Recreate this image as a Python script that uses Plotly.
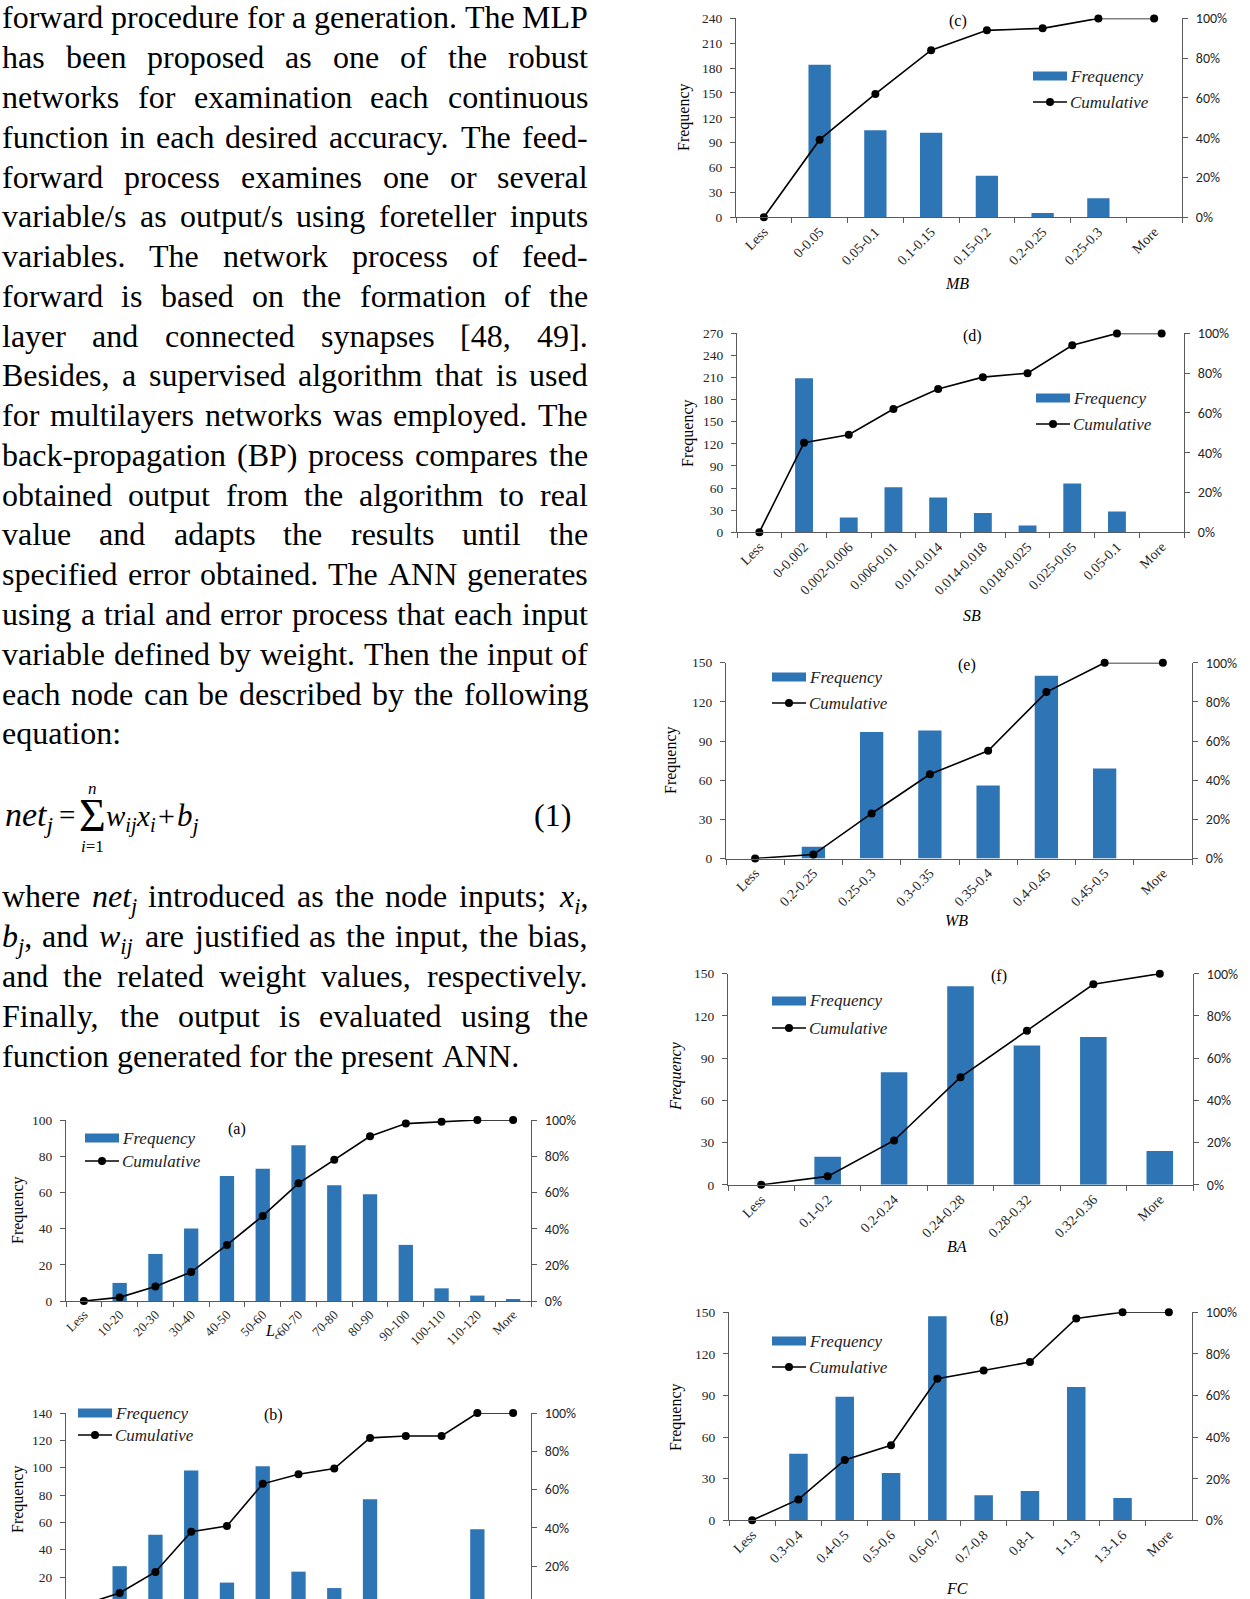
import re
import plotly.graph_objects as go

W, H = 1250, 1599
SERIF = "Liberation Serif, Times New Roman, serif"
SANS = "Carlito, Lato, Liberation Sans, sans-serif"
BLUE = "#2E75B6"
AXIS = "#595959"
TICK = "#262626"

# ---------------- chart data ----------------
cats_a = ["Less", "10-20", "20-30", "30-40", "40-50", "50-60", "60-70",
          "70-80", "80-90", "90-100", "100-110", "110-120", "More"]
freq_a = [0, 10, 26, 40, 69, 73, 86, 64, 59, 31, 7, 3, 1]
cum_a = [0, 2, 8, 16, 31, 47, 65, 78, 91, 98, 99, 100, 100]

cats_b = ["Less", "b1", "b2", "b3", "b4", "b5", "b6", "b7", "b8", "b9",
          "b10", "b11", "More"]
freq_b = [0, 28, 51, 98, 16, 101, 24, 12, 77, 1, 3, 55, 0]
cum_b = [0, 6, 17, 38, 41, 63, 68, 71, 87, 88, 88, 100, 100]

cats_c = ["Less", "0-0.05", "0.05-0.1", "0.1-0.15", "0.15-0.2", "0.2-0.25",
          "0.25-0.3", "More"]
freq_c = [0, 184, 105, 102, 50, 5, 23, 0]
cum_c = [0, 39, 62, 84, 94, 95, 100, 100]

cats_d = ["Less", "0-0.002", "0.002-0.006", "0.006-0.01", "0.01-0.014",
          "0.014-0.018", "0.018-0.025", "0.025-0.05", "0.05-0.1", "More"]
freq_d = [0, 209, 20, 61, 47, 26, 9, 66, 28, 0]
cum_d = [0, 45, 49, 62, 72, 78, 80, 94, 100, 100]

cats_e = ["Less", "0.2-0.25", "0.25-0.3", "0.3-0.35", "0.35-0.4", "0.4-0.45",
          "0.45-0.5", "More"]
freq_e = [0, 9, 97, 98, 56, 140, 69, 0]
cum_e = [0, 2, 23, 43, 55, 85, 100, 100]

cats_f = ["Less", "0.1-0.2", "0.2-0.24", "0.24-0.28", "0.28-0.32",
          "0.32-0.36", "More"]
freq_f = [0, 20, 80, 141, 99, 105, 24]
cum_f = [0, 4, 21, 51, 73, 95, 100]

cats_g = ["Less", "0.3-0.4", "0.4-0.5", "0.5-0.6", "0.6-0.7", "0.7-0.8",
          "0.8-1", "1-1.3", "1.3-1.6", "More"]
freq_g = [0, 48, 89, 34, 147, 18, 21, 96, 16, 0]
cum_g = [0, 10, 29, 36, 68, 72, 76, 97, 100, 100]

# ---------------- body text ----------------
para1 = [
    "forward procedure for a generation. The MLP",
    "has been proposed as one of the robust",
    "networks for examination each continuous",
    "function in each desired accuracy. The feed-",
    "forward process examines one or several",
    "variable/s as output/s using foreteller inputs",
    "variables. The network process of feed-",
    "forward is based on the formation of the",
    "layer and connected synapses [48, 49].",
    "Besides, a supervised algorithm that is used",
    "for multilayers networks was employed. The",
    "back-propagation (BP) process compares the",
    "obtained output from the algorithm to real",
    "value and adapts the results until the",
    "specified error obtained. The ANN generates",
    "using a trial and error process that each input",
    "variable defined by weight. Then the input of",
    "each node can be described by the following",
    "equation:",
]
para2 = [
    "where <i>net<sub>j</sub></i> introduced as the node inputs; <i>x<sub>i</sub></i>,",
    "<i>b<sub>j</sub></i>, and <i>w<sub>ij</sub></i> are justified as the input, the bias,",
    "and the related weight values, respectively.",
    "Finally, the output is evaluated using the",
    "function generated for the present ANN.",
]

# Times / Liberation Serif advance widths (1/1000 em)
TW = {' ': 250, 'a': 444, 'b': 500, 'c': 444, 'd': 500, 'e': 444, 'f': 333,
      'g': 500, 'h': 500, 'i': 278, 'j': 278, 'k': 500, 'l': 278, 'm': 778,
      'n': 500, 'o': 500, 'p': 500, 'q': 500, 'r': 333, 's': 389, 't': 278,
      'u': 500, 'v': 500, 'w': 722, 'x': 500, 'y': 500, 'z': 444,
      'A': 722, 'B': 667, 'C': 667, 'D': 722, 'E': 611, 'F': 556, 'G': 722,
      'H': 722, 'I': 333, 'J': 389, 'K': 722, 'L': 611, 'M': 889, 'N': 722,
      'O': 722, 'P': 556, 'Q': 722, 'R': 667, 'S': 556, 'T': 611, 'U': 722,
      'V': 722, 'W': 944, 'X': 722, 'Y': 722, 'Z': 611,
      '.': 250, ',': 250, ':': 278, ';': 278, '-': 333, '/': 278, '(': 333,
      ')': 333, '[': 333, ']': 333}

TEXT_SIZE = 32
X0, X1 = 2, 588
BASE1 = 28.0
LEAD = 39.77
BASE2 = 907.0
ASC = 0.891

annotations = []
shapes = []


def X(px):
    return px / W


def Y(py):
    return 1 - py / H


def wwidth(tok, size):
    w = 0.0
    sub = False
    for part in re.split(r'(<[^>]+>)', tok):
        if part.startswith('<'):
            if part == '<sub>':
                sub = True
            elif part == '</sub>':
                sub = False
            continue
        for ch in part:
            w += TW.get(ch, 500) * (0.7 if sub else 1.0)
    return w * size / 1000.0


def add_text(s, x, base, size, xanchor='left', family=SERIF, color='black'):
    top = base - ASC * size
    annotations.append(dict(text=s, x=X(x), y=Y(top), xref='paper', yref='paper',
                            xanchor=xanchor, yanchor='top', showarrow=False,
                            borderpad=0, borderwidth=0,
                            font=dict(family=family, size=size, color=color)))


def add_center(s, x, y, size, family=SERIF, angle=0, color='black'):
    annotations.append(dict(text=s, x=X(x), y=Y(y), xref='paper', yref='paper',
                            xanchor='center', yanchor='middle', showarrow=False,
                            borderpad=0, borderwidth=0, textangle=angle,
                            font=dict(family=family, size=size, color=color)))


def place_line(line, base, justify):
    words = line.split(' ')
    widths = [wwidth(w, TEXT_SIZE) for w in words]
    if justify and len(words) > 1:
        gap = (X1 - X0 - sum(widths)) / (len(words) - 1)
    else:
        gap = TW[' '] * TEXT_SIZE / 1000.0
    x = X0
    for i, (w, wd) in enumerate(zip(words, widths)):
        if justify and len(words) > 1 and i == len(words) - 1:
            add_text(w, X1, base, TEXT_SIZE, xanchor='right')
        else:
            add_text(w, x, base, TEXT_SIZE)
        x += wd + gap


for i, line in enumerate(para1):
    place_line(line, BASE1 + i * LEAD, i < len(para1) - 1)
for i, line in enumerate(para2):
    place_line(line, BASE2 + i * LEAD, i < len(para2) - 1)

# equation (1)
EQ_BASE = 826
add_text("<i>net</i><sub><i>j</i></sub>", 5, EQ_BASE, 34)
add_center("=", 67, 815, 29)
add_center("\u03a3", 92, 816, 46)
add_center("<i>n</i>", 92, 788, 17)
add_center("<i>i</i>=1", 92, 846, 17)
add_text("<i>w</i><sub><i>ij</i></sub>", 106, EQ_BASE, 29)
add_text("<i>x</i><sub><i>i</i></sub>", 136, EQ_BASE, 29)
add_center("+", 166, 815, 30)
add_text("<i>b</i><sub><i>j</i></sub>", 177, EQ_BASE, 31)
add_text("(1)", 571, EQ_BASE, 32, xanchor='right')

# ---------------- panels (layout only) ----------------
panels = [
    dict(cats=cats_c, freq=freq_c, cum=cum_c, ymin=0, ymax=240, dtick=30,
         box=(736, 1182, 18.4, 217.2), tag="(c)", tag_xy=(958, 21),
         xt="<i>MB</i>", xt_xy=(957, 283), yt="Frequency", yt_xy=(684, 117),
         leg=(1033, 76, 102), xfs=14),
    dict(cats=cats_d, freq=freq_d, cum=cum_d, ymin=0, ymax=270, dtick=30,
         box=(737, 1184, 333.4, 532.2), tag="(d)", tag_xy=(972, 336),
         xt="<i>SB</i>", xt_xy=(972, 615), yt="Frequency", yt_xy=(688, 433),
         leg=(1036, 398, 424), xfs=14),
    dict(cats=cats_e, freq=freq_e, cum=cum_e, ymin=0, ymax=150, dtick=30,
         box=(726, 1192, 662.7, 858.5), tag="(e)", tag_xy=(967, 665),
         xt="<i>WB</i>", xt_xy=(957, 920), yt="Frequency", yt_xy=(671, 760),
         leg=(772, 677, 703), xfs=14),
    dict(cats=cats_f, freq=freq_f, cum=cum_f, ymin=0, ymax=150, dtick=30,
         box=(728, 1193, 973.7, 1184.8), tag="(f)", tag_xy=(999, 976),
         xt="<i>BA</i>", xt_xy=(957, 1246), yt="<i>Frequency</i>", yt_xy=(676, 1076),
         leg=(772, 1001, 1028), xfs=14),
    dict(cats=cats_g, freq=freq_g, cum=cum_g, ymin=0, ymax=150, dtick=30,
         box=(729, 1192, 1312.2, 1520.2), tag="(g)", tag_xy=(999, 1317),
         xt="<i>FC</i>", xt_xy=(957, 1588), yt="Frequency", yt_xy=(676, 1417),
         leg=(772, 1341, 1367), xfs=14),
    dict(cats=cats_a, freq=freq_a, cum=cum_a, ymin=0, ymax=100, dtick=20,
         box=(66, 531, 1120, 1301), tag="(a)", tag_xy=(237, 1129),
         xt="<i>L<sub>c</sub></i>", xt_xy=(272, 1331), yt="Frequency", yt_xy=(18, 1210),
         leg=(85, 1138, 1161), xfs=13),
    dict(cats=cats_b, freq=freq_b, cum=cum_b, ymin=4, ymax=140, dtick=20,
         box=(66, 531, 1413, 1599), tag="(b)", tag_xy=(273, 1415),
         xt=None, xt_xy=None, yt="Frequency", yt_xy=(18, 1499),
         leg=(78, 1413, 1435), hidex=True, xfs=13),
]

fig = go.Figure()
layout = {}
for k, p in enumerate(panels, start=1):
    xa = 'x' if k == 1 else f'x{k}'
    i1, i2 = 2 * k - 1, 2 * k
    ya = 'y' if i1 == 1 else f'y{i1}'
    yb = f'y{i2}'
    fig.add_trace(go.Bar(x=p['cats'], y=p['freq'], xaxis=xa, yaxis=ya,
                         marker=dict(color=BLUE, line=dict(width=0)),
                         name='Frequency', showlegend=False))
    fig.add_trace(go.Scatter(x=p['cats'], y=p['cum'], xaxis=xa, yaxis=yb,
                             mode='lines+markers', cliponaxis=False,
                             line=dict(color='black', width=1.6),
                             marker=dict(color='black', size=8),
                             name='Cumulative', showlegend=False))
    x0, x1, y0, y1 = p['box']
    n = len(p['cats'])
    xkey = 'xaxis' if k == 1 else f'xaxis{k}'
    ykey = 'yaxis' if i1 == 1 else f'yaxis{i1}'
    y2key = f'yaxis{i2}'
    layout[xkey] = dict(domain=[X(x0), X(x1)], anchor=ya, type='category',
                        range=[-0.5, n - 0.5], showline=True, linecolor=AXIS,
                        linewidth=1, ticks='outside', tickson='boundaries',
                        ticklen=5, tickcolor=AXIS, tickangle=-45,
                        tickfont=dict(family=SERIF, size=p['xfs'], color=TICK),
                        showgrid=False, zeroline=False, automargin=False,
                        visible=not p.get('hidex', False))
    dom = [Y(y1), Y(y0)]
    layout[ykey] = dict(domain=dom, anchor=xa, range=[p['ymin'], p['ymax']],
                        tickmode='linear', tick0=0, dtick=p['dtick'],
                        showline=True, linecolor=AXIS, linewidth=1,
                        ticks='outside', ticklen=5, tickcolor=AXIS,
                        ticklabelstandoff=5,
                        tickfont=dict(family=SERIF, size=13.5, color=TICK),
                        showgrid=False, zeroline=False, automargin=False)
    layout[y2key] = dict(overlaying=ya, side='right', anchor=xa,
                         range=[p['ymin'] / p['ymax'] * 100, 100],
                         tickmode='array', tickvals=[0, 20, 40, 60, 80, 100],
                         ticktext=['0%', '20%', '40%', '60%', '80%', '100%'],
                         showline=True, linecolor=AXIS, linewidth=1,
                         ticks='outside', ticklen=5, tickcolor=AXIS,
                         ticklabelstandoff=5,
                         tickfont=dict(family=SANS, size=14, color=TICK),
                         showgrid=False, zeroline=False, automargin=False)
    # panel tag, axis titles
    add_center(p['tag'], p['tag_xy'][0], p['tag_xy'][1], 16)
    if p['xt']:
        add_center(p['xt'], p['xt_xy'][0], p['xt_xy'][1], 16)
    add_center(p['yt'], p['yt_xy'][0], p['yt_xy'][1], 16, angle=-90)
    # legend (patch + line/marker + italic labels)
    lx, r1, r2 = p['leg']
    shapes.append(dict(type='rect', xref='paper', yref='paper',
                       x0=X(lx), x1=X(lx + 34), y0=Y(r1 + 4.5), y1=Y(r1 - 4.5),
                       fillcolor=BLUE, line=dict(width=0)))
    shapes.append(dict(type='line', xref='paper', yref='paper',
                       x0=X(lx), x1=X(lx + 34), y0=Y(r2), y1=Y(r2),
                       line=dict(color='black', width=1.6)))
    shapes.append(dict(type='circle', xref='paper', yref='paper',
                       x0=X(lx + 17 - 4), x1=X(lx + 17 + 4),
                       y0=Y(r2 + 4), y1=Y(r2 - 4),
                       fillcolor='black', line=dict(width=0)))
    annotations.append(dict(text="<i>Frequency</i>", x=X(lx + 36), y=Y(r1),
                            xref='paper', yref='paper', xanchor='left',
                            yanchor='middle', showarrow=False, borderpad=0,
                            font=dict(family=SERIF, size=17, color='#222')))
    annotations.append(dict(text="<i>Cumulative</i>", x=X(lx + 36), y=Y(r2),
                            xref='paper', yref='paper', xanchor='left',
                            yanchor='middle', showarrow=False, borderpad=0,
                            font=dict(family=SERIF, size=17, color='#222')))

fig.update_layout(**layout)
fig.update_layout(width=W, height=H, margin=dict(l=0, r=0, t=0, b=0),
                  paper_bgcolor='white', plot_bgcolor='rgba(0,0,0,0)',
                  template='none', bargap=0.6, showlegend=False,
                  annotations=annotations, shapes=shapes,
                  font=dict(family=SERIF, color='black'))
fig.write_html("out.html")
